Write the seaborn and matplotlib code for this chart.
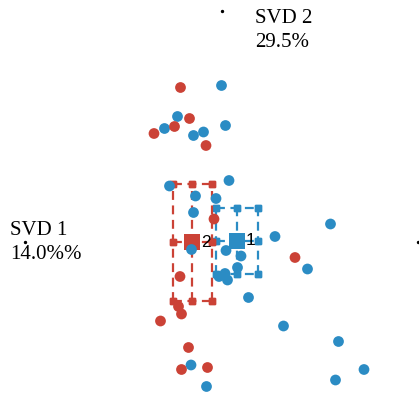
import numpy as np
import pandas as pd
import matplotlib
matplotlib.use("Agg")
import matplotlib.pyplot as plt
import seaborn as sns

# group 2 (red) scores
red_x = [-0.83, -0.65, -0.95, -1.36, -0.32, -0.16, -0.84, -0.87, -0.81, -1.23, 1.46, -0.67, -0.81, -0.29]
red_y = [3.09, 2.47, 2.31, 2.17, 1.93, 0.46, -0.69, -1.29, -1.44, -1.58, -0.31, -2.11, -2.55, -2.51]
# group 1 (blue) scores
blue_x = [-0.01, -0.89, -1.15, -0.57, -0.37, 0.07, -1.05, 0.14, -0.53, -0.12, -0.57, 1.06, 2.17, -0.61,
          0.08, 0.38, 0.31, -0.06, 0.06, 0.11, 0.53, 1.71, 1.23, 2.33, 2.84, 2.27, -0.62, -0.31]
blue_y = [3.13, 2.51, 2.27, 2.13, 2.20, 2.33, 1.12, 1.23, 0.92, 0.87, 0.59, 0.11, 0.36, -0.15,
          -0.17, -0.28, -0.51, -0.69, -0.63, -0.76, -1.11, -0.54, -1.68, -1.99, -2.55, -2.76, -2.46, -2.89]
groups = ["1", "2"]
axis_labels = ["SVD 1\n14.0%%", "SVD 2\n29.5%"]

colors = {"1": "#2b8cc4", "2": "#cb4236"}
t_crit = {"1": 2.052, "2": 2.160}

df = pd.DataFrame({
    "x": blue_x + red_x,
    "y": blue_y + red_y,
    "group": ["1"] * len(blue_x) + ["2"] * len(red_x),
})

fig = plt.figure(figsize=(4.19, 3.98), dpi=100)
ax = fig.add_axes([0, 0, 1, 1])
ax.set_xlim(-4.44, 3.94)
ax.set_ylim(-3.12, 4.84)
ax.axis("off")

# confidence boxes
cent_rows = []
for g in groups:
    sub = df[df.group == g]
    n = len(sub)
    mx, my = sub.x.mean(), sub.y.mean()
    hx = t_crit[g] * sub.x.std(ddof=1) / np.sqrt(n)
    hy = t_crit[g] * sub.y.std(ddof=1) / np.sqrt(n)
    xs = [mx - hx, mx, mx + hx]
    ys = [my - hy, my, my + hy]
    c = colors[g]
    for yy in ys:
        ax.plot(xs, [yy] * 3, color=c, lw=1.6, ls=(0, (4, 2.5)), marker="s", ms=4, zorder=2)
    for xx in xs:
        ax.plot([xx] * 3, ys, color=c, lw=1.6, ls=(0, (4, 2.5)), marker="s", ms=4, zorder=2)
    cent_rows.append({"x": mx, "y": my, "group": g})
cent = pd.DataFrame(cent_rows)

sns.scatterplot(data=cent, x="x", y="y", hue="group", palette=colors, marker="s", s=140,
                linewidth=0, legend=False, ax=ax, zorder=3)
for _, r in cent.iterrows():
    ax.text(r.x + 0.17, r.y, r.group, fontsize=12.5, va="center", ha="left",
            family="Liberation Sans", zorder=4)

sns.scatterplot(data=df, x="x", y="y", hue="group", palette=colors, s=60, linewidth=0,
                legend=False, ax=ax, zorder=5)

# axis end dots
ax.scatter([0, -3.94, 3.92], [4.62, 0, 0], s=2, color="black", zorder=6)
ax.set_xlabel("")
ax.set_ylabel("")

fig.text(10 / 419, 1 - 221 / 398, axis_labels[0], family="Liberation Serif", fontsize=15,
         va="top", ha="left", linespacing=1.35)
fig.text(255 / 419, 1 - 9 / 398, axis_labels[1], family="Liberation Serif", fontsize=15,
         va="top", ha="left", linespacing=1.35)

fig.savefig("out.png", dpi=100)
